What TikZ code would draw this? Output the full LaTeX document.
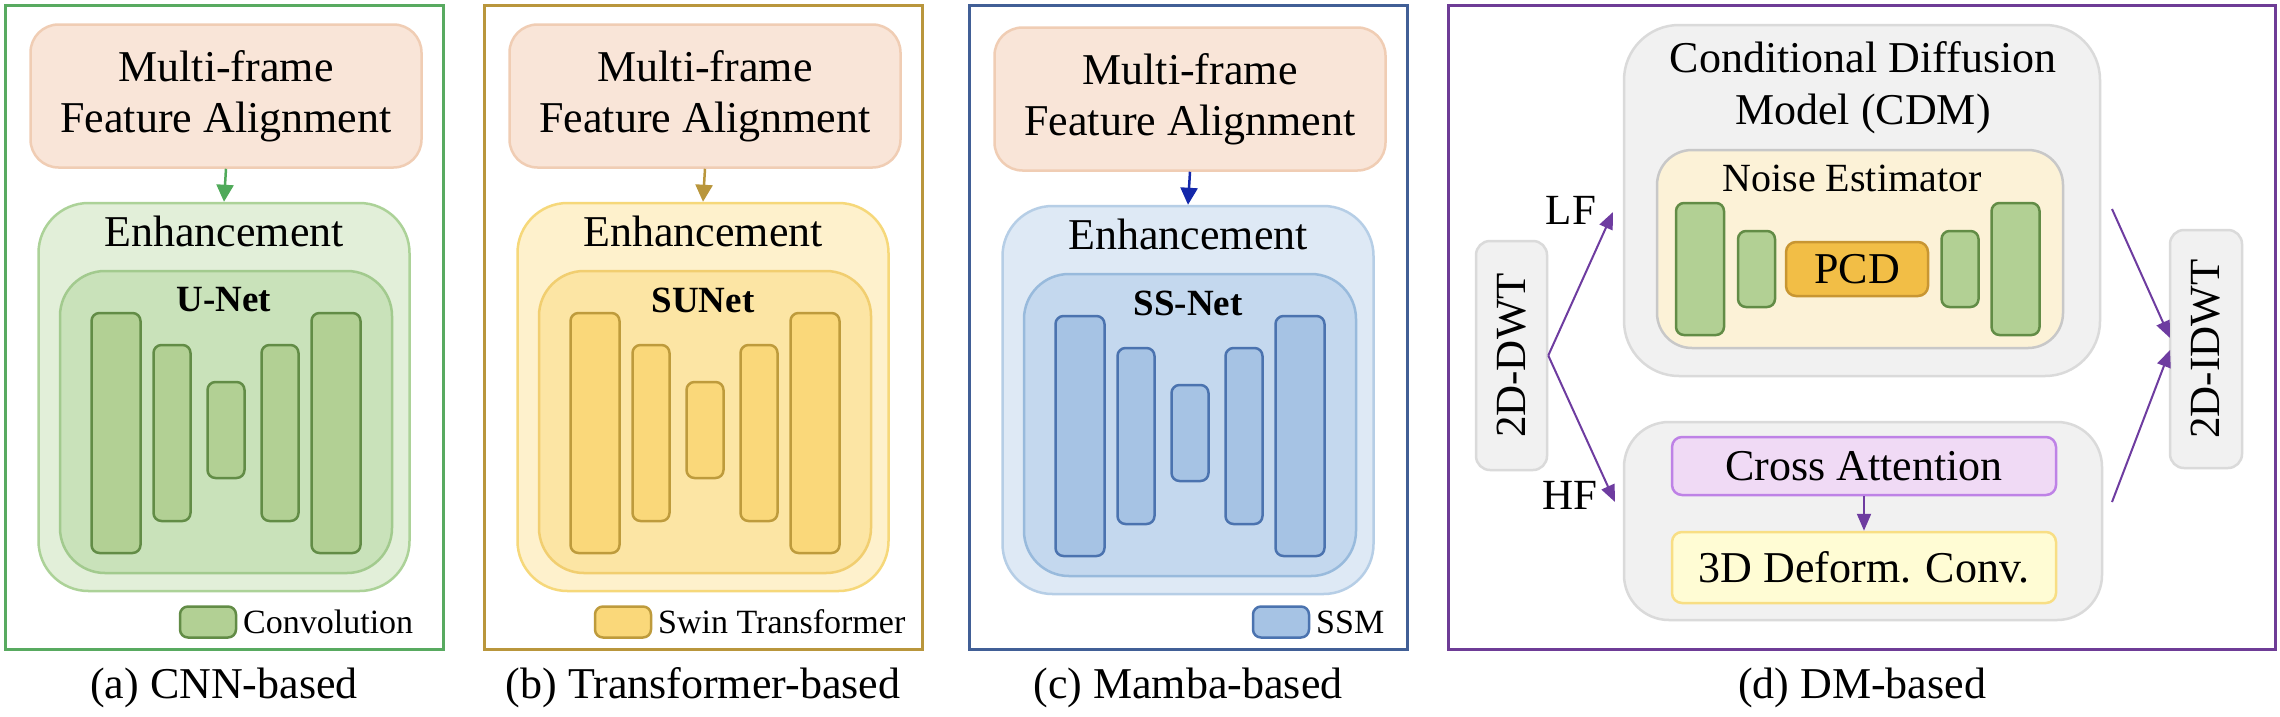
\documentclass[tikz,border=0pt]{standalone}
\usepackage{fontspec}
\setmainfont{Liberation Serif}
\usetikzlibrary{arrows.meta}
% panel colours
\definecolor{framea}{RGB}{88,170,96}
\definecolor{frameb}{RGB}{185,150,60}
\definecolor{framec}{RGB}{65,95,150}
\definecolor{framed}{RGB}{110,60,150}
\definecolor{arra}{RGB}{80,170,90}
\definecolor{arrb}{RGB}{185,150,60}
\definecolor{arrc}{RGB}{20,40,170}
\definecolor{arrd}{RGB}{110,60,160}
\definecolor{mfaF}{RGB}{249,229,216}
\definecolor{mfaD}{RGB}{240,205,180}
\definecolor{outFa}{RGB}{226,239,217}
\definecolor{outDa}{RGB}{172,210,152}
\definecolor{inFa}{RGB}{201,226,186}
\definecolor{inDa}{RGB}{162,202,142}
\definecolor{barFa}{RGB}{178,208,148}
\definecolor{barDa}{RGB}{98,140,70}
\definecolor{outFb}{RGB}{254,241,204}
\definecolor{outDb}{RGB}{246,216,122}
\definecolor{inFb}{RGB}{252,229,164}
\definecolor{inDb}{RGB}{241,206,112}
\definecolor{barFb}{RGB}{250,216,122}
\definecolor{barDb}{RGB}{190,155,60}
\definecolor{outFc}{RGB}{222,233,245}
\definecolor{outDc}{RGB}{182,206,230}
\definecolor{inFc}{RGB}{196,216,238}
\definecolor{inDc}{RGB}{152,186,220}
\definecolor{barFc}{RGB}{166,195,228}
\definecolor{barDc}{RGB}{75,115,175}
\definecolor{greyF}{RGB}{241,241,241}
\definecolor{greyD}{RGB}{218,218,218}
\definecolor{noiseF}{RGB}{252,242,215}
\definecolor{noiseD}{RGB}{200,200,200}
\definecolor{pcdF}{RGB}{242,190,70}
\definecolor{pcdD}{RGB}{200,150,50}
\definecolor{caF}{RGB}{240,218,245}
\definecolor{caD}{RGB}{190,130,230}
\definecolor{dcF}{RGB}{255,252,212}
\definecolor{dcD}{RGB}{248,222,132}

\tikzset{
  txt/.style={inner sep=0pt, font=\fontsize{44}{51}\selectfont},
  mfabox/.style={draw=mfaD, fill=mfaF, line width=2.5pt, rounded corners=28pt,
    minimum width=391pt, minimum height=143pt, inner sep=0pt, align=center,
    font=\fontsize{44}{51}\selectfont},
  outerbox/.style={draw=outD#1, fill=outF#1, line width=2.5pt, rounded corners=50pt,
    minimum width=371pt, minimum height=388pt, inner sep=0pt},
  innerbox/.style={draw=inD#1, fill=inF#1, line width=2.5pt, rounded corners=45pt,
    minimum width=332pt, minimum height=302pt, inner sep=0pt},
  bar/.style={draw=barD#1, fill=barF#1, line width=2.5pt, rounded corners=8pt, inner sep=0pt},
  arr/.style={draw=arr#1, line width=2.5pt, -{Triangle[length=17pt,width=17pt]}},
  frm/.style={draw=frame#1, line width=3pt},
  legtxt/.style={inner sep=0pt, anchor=west, font=\fontsize{34}{40}\selectfont},
  nettxt/.style={inner sep=0pt, font=\fontsize{37}{42}\selectfont\bfseries},
  greybox/.style={draw=greyD, fill=greyF, line width=2.5pt, inner sep=0pt},
  darr/.style={draw=arrd, line width=2pt, -{Triangle[length=17pt,width=14pt]}},
}

% #1 suffix, #2 frame left x, #3 dy, #4 net name, #5 legend box x, #6 legend text, #7 caption
\newcommand{\mkpanel}[7]{%
  \draw[frm=#1] (#2,5) rectangle ({#2+438},649);
  \node[mfabox] (mfa#1) at ({#2+221},{96+#3}) {Multi-frame\\Feature Alignment};
  \node[outerbox=#1] (enh#1) at ({#2+219},{397+#3}) {};
  \node[txt] (enht#1) at ({#2+219},{231+#3}) {Enhancement};
  \node[innerbox=#1] (net#1) at ({#2+221},{422+#3}) {};
  \node[nettxt] (nett#1) at ({#2+219},{300+#3}) {#4};
  \node[bar=#1, minimum width=49pt, minimum height=240pt] (b1#1) at ({#2+111},{433+#3}) {};
  \node[bar=#1, minimum width=37pt, minimum height=176pt] (b2#1) at ({#2+167},{433+#3}) {};
  \node[bar=#1, minimum width=37pt, minimum height=96pt]  (b3#1) at ({#2+221},{430+#3}) {};
  \node[bar=#1, minimum width=37pt, minimum height=176pt] (b4#1) at ({#2+275},{433+#3}) {};
  \node[bar=#1, minimum width=49pt, minimum height=240pt] (b5#1) at ({#2+331},{433+#3}) {};
  \draw[arr=#1] (mfa#1.south) -- (enh#1.north);
  \node[bar=#1, minimum width=56pt, minimum height=31pt] (leg#1) at ({#5+28},622) {};
  \node[legtxt] (legt#1) at ({#5+63},622) {#6};
  \node[txt] (cap#1) at ({#2+219},688) {#7};
}

\begin{document}
\begin{tikzpicture}[x=1pt,y=-1pt]
\useasboundingbox (0,0) rectangle (2280,716);
\fill[white] (0,0) rectangle (2280,716);

\mkpanel{a}{5}{0}{U-Net}{180}{Convolution}{(a) CNN-based}
\mkpanel{b}{484}{0}{SUNet}{595}{Swin Transformer}{(b) Transformer-based}
\mkpanel{c}{969}{3}{SS-Net}{1253}{SSM}{(c) Mamba-based}

% ---- panel (d)
\draw[frm=d] (1448,5) rectangle (2275,649);
\node[greybox, rounded corners=55pt, minimum width=476pt, minimum height=351pt] (cdm) at (1862,200.5) {};
\node[txt, align=center, font=\fontsize{44}{52}\selectfont] (cdmt) at (1863,88) {Conditional Diffusion\\Model (CDM)};
\node[draw=noiseD, fill=noiseF, line width=2.5pt, rounded corners=35pt, minimum width=406pt, minimum height=198pt, inner sep=0pt] (noise) at (1860,249) {};
\node[txt, font=\fontsize{40}{46}\selectfont] (noiset) at (1852,178) {Noise Estimator};
\node[bar=a, minimum width=48pt, minimum height=132pt] (d1) at (1700,269) {};
\node[bar=a, minimum width=37pt, minimum height=76pt] (d2) at (1756.5,269) {};
\node[draw=pcdD, fill=pcdF, line width=2.5pt, rounded corners=10pt, minimum width=142pt, minimum height=54pt, inner sep=0pt, font=\fontsize{44}{50}\selectfont] (pcd) at (1857,269) {PCD};
\node[bar=a, minimum width=37pt, minimum height=76pt] (d3) at (1960,269) {};
\node[bar=a, minimum width=48pt, minimum height=132pt] (d4) at (2015.5,269) {};

\node[greybox, rounded corners=45pt, minimum width=478pt, minimum height=198pt] (low) at (1863,521) {};
\node[draw=caD, fill=caF, line width=2.5pt, rounded corners=10pt, minimum width=384pt, minimum height=58pt, inner sep=0pt, font=\fontsize{44}{50}\selectfont] (ca) at (1864,466) {Cross Attention};
\node[draw=dcD, fill=dcF, line width=2.5pt, rounded corners=10pt, minimum width=384pt, minimum height=71pt, inner sep=0pt, font=\fontsize{44}{50}\selectfont] (dc) at (1864,567.5) {3D Deform. Conv.};
\draw[darr] (ca.south) -- (dc.north);

\node[greybox, rounded corners=14pt, minimum width=229pt, minimum height=71pt, rotate=90, font=\fontsize{43}{50}\selectfont] (dwt) at (1511.5,355.5) {2D-DWT};
\node[greybox, rounded corners=14pt, minimum width=238pt, minimum height=72pt, rotate=90, font=\fontsize{43}{50}\selectfont] (idwt) at (2206,349) {2D-IDWT};

\coordinate (lftip) at (1613,212);
\coordinate (hftip) at (1615,502);
\coordinate (lfout) at (2112,209);
\coordinate (hfout) at (2112,502);
\coordinate (intop) at (2170,338);
\coordinate (inbot) at (2170,350);
\draw[darr] (dwt.south) -- (lftip);
\draw[darr] (dwt.south) -- (hftip);
\draw[darr] (lfout) -- (intop);
\draw[darr] (hfout) -- (inbot);
\node[txt, font=\fontsize{43}{50}\selectfont] (lf) at (1571,210) {LF};
\node[txt, font=\fontsize{43}{50}\selectfont] (hf) at (1570,495) {HF};

\node[txt] (capd) at (1862,688) {(d) DM-based};
\end{tikzpicture}
\end{document}
